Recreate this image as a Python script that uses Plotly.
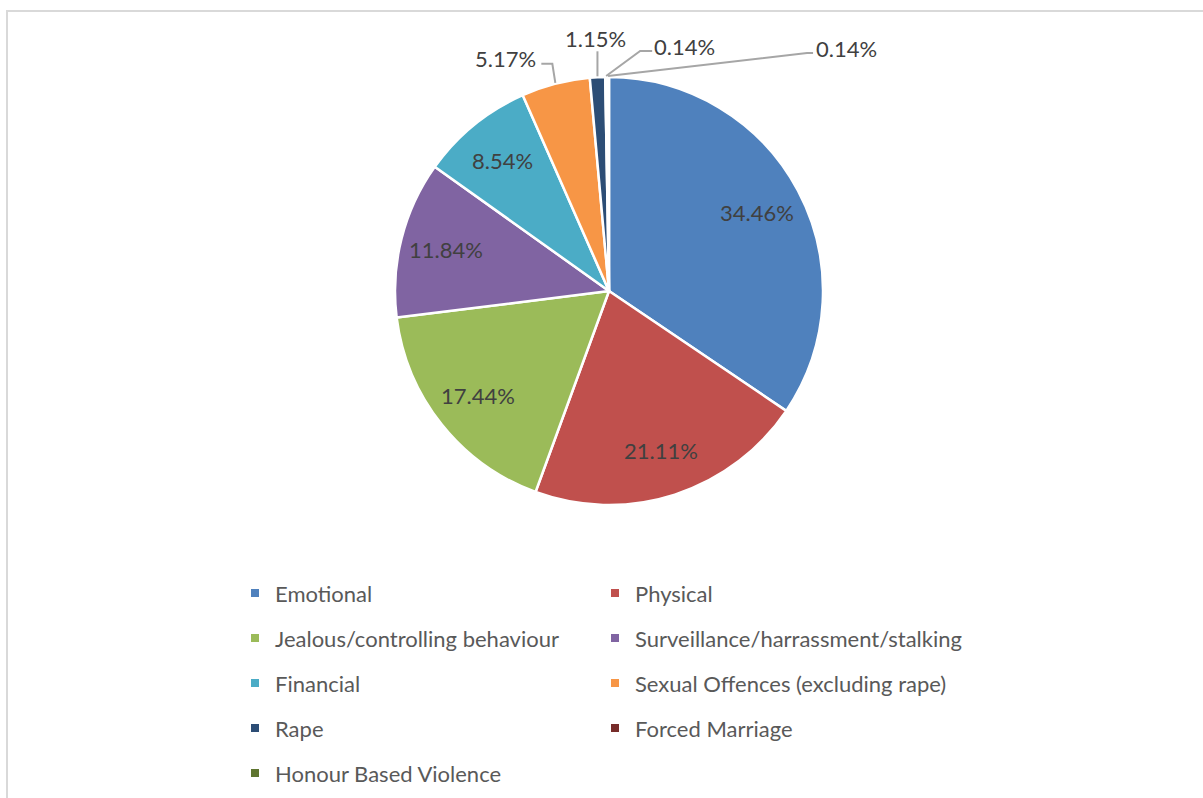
import math
import plotly.graph_objects as go

# ---------------- data ----------------
categories = ["Emotional", "Physical", "Jealous/controlling behaviour",
              "Surveillance/harrassment/stalking", "Financial",
              "Sexual Offences (excluding rape)", "Rape", "Forced Marriage",
              "Honour Based Violence"]
percentages = [34.46, 21.11, 17.44, 11.84, 8.54, 5.17, 1.15, 0.14, 0.14]
colors = ["#4F81BD", "#C0504D", "#9BBB59", "#8064A2", "#4BACC6",
          "#F79646", "#2C4D75", "#772C2A", "#5F7530"]
label_texts = [f"{v:.2f}%" for v in percentages]

# ---------------- layout geometry (pixels) ----------------
W_FIG, H_FIG = 1203, 798
M_L, M_R, M_T, M_B = 200, 200, 0, 0
PW = W_FIG - M_L - M_R
PH = H_FIG - M_T - M_B
CX, CY, R = 609, 291, 214          # pie centre / radius in pixels
FONT = "Lato"
LABEL_SIZE = 22
LEGEND_SIZE = 22


def px_x(px):
    return (px - M_L) / PW


def px_y(py):
    return 1 - (py - M_T) / PH


fig = go.Figure()
fig.add_trace(go.Pie(
    labels=categories, values=percentages, sort=False,
    direction="clockwise", rotation=0,
    marker=dict(colors=colors, line=dict(color="white", width=2.5)),
    textinfo="none", hoverinfo="label+percent", showlegend=False,
    domain=dict(x=[px_x(CX - R), px_x(CX + R)], y=[px_y(CY + R), px_y(CY - R)]),
))

# legend entries (one group per category so rows can be spaced like the original)
for k, (name, col) in enumerate(zip(categories, colors)):
    fig.add_trace(go.Scatter(
        x=[None], y=[None], mode="markers", name=name, legendgroup=name,
        legendwidth=321 if k % 2 == 0 else 345,
        marker=dict(symbol="square", size=8, color=col),
        hoverinfo="skip", showlegend=True))

# ---------------- data labels ----------------
total = sum(percentages)
mid_angles = []
acc = 0
for v in percentages:
    mid_angles.append((acc + v / 2) / total * 2 * math.pi)
    acc += v

annotations = []
shapes = []
INSIDE_FACTOR = 0.785
n_inside = 5
for i in range(n_inside):
    a = mid_angles[i]
    x = CX + INSIDE_FACTOR * R * math.sin(a)
    y = CY - INSIDE_FACTOR * R * math.cos(a)
    annotations.append(dict(x=px_x(x), y=px_y(y), xref="paper", yref="paper",
                            xanchor="center", yanchor="middle",
                            text=label_texts[i], showarrow=False,
                            font=dict(family=FONT, size=LABEL_SIZE, color="#404040")))

# leader-line styling for the small slices: elbow offset, end offset, label anchor
leader_style = {
    5: dict(elbow=(-3, -19), end=(-14, -19), anchor="right", text_dx=-3, text_dy=-5),
    6: dict(elbow=(0, -25), end=(0, -25), anchor="center", text_dx=-2, text_dy=-13),
    7: dict(elbow=(34, -25), end=(46, -25), anchor="left", text_dx=0, text_dy=-5),
    8: dict(elbow=(199, -23), end=(205, -23), anchor="left", text_dx=1, text_dy=-5),
}
for i, st in leader_style.items():
    a = mid_angles[i]
    ex = CX + (R + 1) * math.sin(a)
    ey = CY - (R + 1) * math.cos(a)
    bx, by = ex + st["elbow"][0], ey + st["elbow"][1]
    fx, fy = ex + st["end"][0], ey + st["end"][1]
    path = (f"M {px_x(ex)},{px_y(ey)} L {px_x(bx)},{px_y(by)} "
            f"L {px_x(fx)},{px_y(fy)}")
    shapes.append(dict(type="path", path=path, xref="paper", yref="paper",
                       line=dict(color="#A6A6A6", width=2)))
    annotations.append(dict(x=px_x(fx + st["text_dx"]), y=px_y(fy + st["text_dy"]),
                            xref="paper", yref="paper", text=label_texts[i],
                            showarrow=False, xanchor=st["anchor"], yanchor="middle",
                            font=dict(family=FONT, size=LABEL_SIZE, color="#404040")))

# chart area border (only top/left visible in the crop)
shapes.append(dict(type="rect", xref="paper", yref="paper",
                   x0=px_x(7), y0=px_y(11), x1=px_x(1225), y1=px_y(825),
                   line=dict(color="#D9D9D9", width=2), layer="below"))

item_h = max(1.3 * LEGEND_SIZE, 16) + 3
row_step = 45
first_row_y = 593
legend_top = first_row_y - 5 - item_h / 2

fig.update_layout(
    width=W_FIG, height=H_FIG,
    margin=dict(l=M_L, r=M_R, t=M_T, b=M_B),
    paper_bgcolor="white", plot_bgcolor="white",
    xaxis=dict(visible=False), yaxis=dict(visible=False),
    annotations=annotations, shapes=shapes,
    legend=dict(orientation="h", x=px_x(241), xanchor="left",
                y=px_y(legend_top), yanchor="top",
                itemwidth=30, indentation=-6,
                tracegroupgap=row_step - item_h,
                font=dict(family=FONT, size=LEGEND_SIZE, color="#595959"),
                bgcolor="rgba(0,0,0,0)"),
    font=dict(family=FONT),
)

fig.write_html("out.html",
               config={"displayModeBar": False},
               post_script="document.body.style.margin='0';"
                           "document.body.style.overflow='hidden';")
